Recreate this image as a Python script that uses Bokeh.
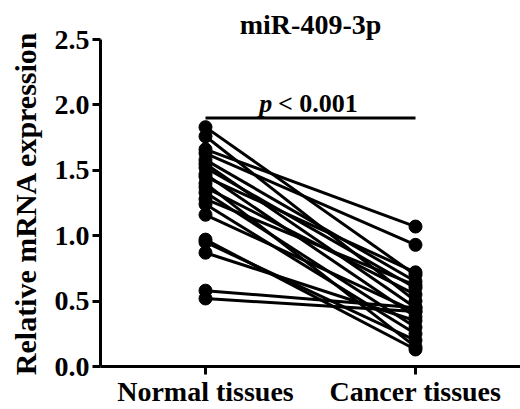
from bokeh.plotting import figure
from bokeh.models import FixedTicker, Label, Range1d
from bokeh.embed import file_html
from bokeh.resources import INLINE

categories = ["Normal tissues", "Cancer tissues"]
normal = [1.83, 1.76, 1.66, 1.63, 1.58, 1.55, 1.52, 1.47, 1.45, 1.40,
          1.37, 1.33, 1.28, 1.24, 1.16, 0.97, 0.95, 0.87, 0.58, 0.52]
cancer = [0.70, 0.50, 1.07, 0.93, 0.65, 0.45, 0.60, 0.38, 0.72, 0.15,
          0.55, 0.30, 0.62, 0.25, 0.42, 0.13, 0.20, 0.35, 0.45, 0.42]
y_ticks = [0.0, 0.5, 1.0, 1.5, 2.0, 2.5]
title_text = "miR-409-3p"
p_text = "p"
p_rest = "< 0.001"
sig_y = 1.90

FONT = "Liberation Serif"

p = figure(width=520, height=409, output_backend="svg", toolbar_location=None,
           x_range=Range1d(0.5, 2.5), y_range=Range1d(0, 2.5),
           min_border_left=100, min_border_right=0, min_border_top=39,
           min_border_bottom=43)
p.grid.visible = False
p.outline_line_color = None
p.background_fill_color = "white"

p.title.text = title_text
p.title.align = "center"
p.title.text_font = FONT
p.title.text_font_style = "bold"
p.title.text_font_size = "28px"
p.title.text_color = "black"
p.title.standoff = 0

xpos = [1, 2]
for a, b in zip(normal, cancer):
    p.line(xpos, [a, b], line_color="black", line_width=3)
p.scatter([1] * len(normal), normal, size=13, color="black")
p.scatter([2] * len(cancer), cancer, size=13, color="black")

# significance bar
p.line(xpos, [sig_y, sig_y], line_color="black", line_width=3)
p.add_layout(Label(x=1.318, y=2.01, text=p_text, text_align="right",
                   text_baseline="alphabetic", text_font=FONT,
                   text_font_style="bold italic", text_font_size="26px",
                   text_color="black"))
p.add_layout(Label(x=1.345, y=2.01, text=p_rest, text_align="left",
                   text_baseline="alphabetic", text_font=FONT,
                   text_font_style="bold", text_font_size="26px",
                   text_color="black"))

for ax in (p.xaxis[0], p.yaxis[0]):
    ax.axis_line_width = 3
    ax.axis_line_color = "black"
    ax.major_tick_line_width = 3
    ax.major_tick_out = 8
    ax.major_tick_in = 0
    ax.minor_tick_line_color = None
    ax.major_label_text_font = FONT
    ax.major_label_text_font_style = "bold"
    ax.major_label_text_color = "black"

p.xaxis.ticker = FixedTicker(ticks=xpos)
p.xaxis.major_label_overrides = {1: categories[0], 2: categories[1]}
p.xaxis.major_label_text_font_size = "28px"
p.xaxis.major_label_standoff = 1

p.yaxis.ticker = FixedTicker(ticks=y_ticks)
p.yaxis.major_label_overrides = {t: f"{t:.1f}" for t in y_ticks}
p.yaxis.major_label_text_font_size = "28px"
p.yaxis.major_label_standoff = 3
p.yaxis.axis_label = "Relative mRNA expression"
p.yaxis.axis_label_text_font = FONT
p.yaxis.axis_label_text_font_style = "bold"
p.yaxis.axis_label_text_font_size = "30px"
p.yaxis.axis_label_text_color = "black"
p.yaxis.axis_label_standoff = 10

open("out.html", "w").write(file_html(p, INLINE))
